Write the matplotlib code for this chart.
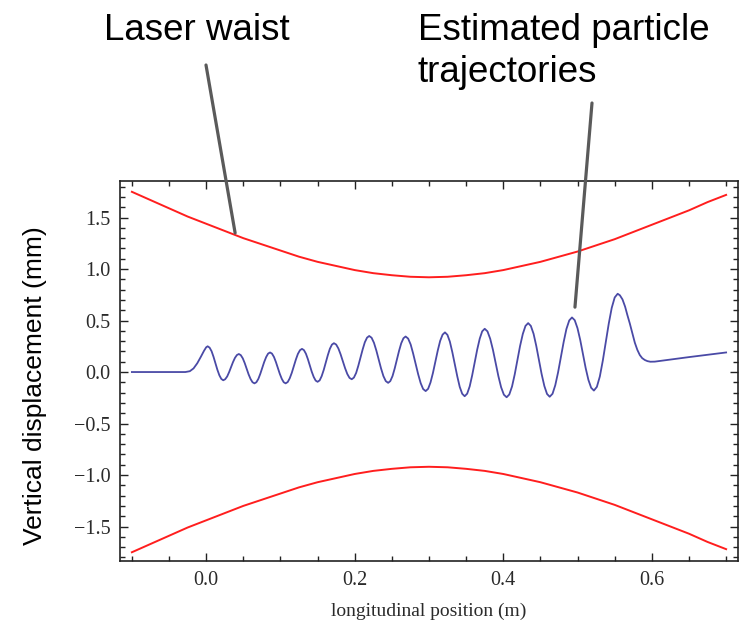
import numpy as np
import matplotlib
matplotlib.use('Agg')
import matplotlib.pyplot as plt
from matplotlib.ticker import MultipleLocator

# laser envelope (upper edge; lower edge mirrored), mm
waist_x = [-0.100, -0.075, -0.050, -0.025, 0.000, 0.025, 0.050, 0.075, 0.100,
           0.125, 0.150, 0.175, 0.200, 0.225, 0.250, 0.275, 0.300, 0.325,
           0.350, 0.375, 0.400, 0.425, 0.450, 0.475, 0.500, 0.525, 0.550,
           0.575, 0.600, 0.625, 0.650, 0.675, 0.700]
waist_upper = [1.75, 1.67, 1.59, 1.51, 1.44, 1.37, 1.30, 1.24, 1.18,
               1.12, 1.07, 1.03, 0.99, 0.96, 0.94, 0.925, 0.92, 0.925,
               0.94, 0.96, 0.99, 1.03, 1.07, 1.12, 1.17, 1.23, 1.29,
               1.36, 1.43, 1.50, 1.57, 1.65, 1.72]
waist_lower = [-1.75, -1.67, -1.59, -1.51, -1.44, -1.37, -1.30, -1.24, -1.18,
               -1.12, -1.07, -1.03, -0.99, -0.96, -0.94, -0.925, -0.92, -0.925,
               -0.94, -0.96, -0.99, -1.03, -1.07, -1.12, -1.17, -1.23, -1.29,
               -1.36, -1.43, -1.50, -1.57, -1.65, -1.72]

# particle trajectory (one row per half oscillation)
traj_x = [-0.100, -0.050, -0.028, -0.022, -0.017, -0.012, -0.007, -0.003, 0.000,
          0.002, 0.0046, 0.0073, 0.0099, 0.0125, 0.0151, 0.0178, 0.0204,
          0.023, 0.0256, 0.0283, 0.0309, 0.0335, 0.0361, 0.0388, 0.0414,
          0.044, 0.0466, 0.0493, 0.0519, 0.0545, 0.0571, 0.0598, 0.0624,
          0.065, 0.0676, 0.0703, 0.0729, 0.0755, 0.0781, 0.0808, 0.0834,
          0.086, 0.0886, 0.0913, 0.0939, 0.0965, 0.0991, 0.1018, 0.1044,
          0.107, 0.1098, 0.1125, 0.1153, 0.118, 0.1208, 0.1235, 0.1263,
          0.129, 0.1316, 0.1343, 0.1369, 0.1395, 0.1421, 0.1448, 0.1474,
          0.150, 0.1528, 0.1555, 0.1583, 0.161, 0.1638, 0.1665, 0.1693,
          0.172, 0.175, 0.178, 0.181, 0.184, 0.187, 0.190, 0.193,
          0.196, 0.1989, 0.2019, 0.2048, 0.2078, 0.2107, 0.2136, 0.2166,
          0.2195, 0.2227, 0.2259, 0.2291, 0.2323, 0.2354, 0.2386, 0.2418,
          0.245, 0.2479, 0.2509, 0.2538, 0.2568, 0.2597, 0.2626, 0.2656,
          0.2685, 0.2719, 0.2753, 0.2786, 0.282, 0.2854, 0.2888, 0.2921,
          0.2955, 0.2988, 0.302, 0.3053, 0.3085, 0.3118, 0.315, 0.3183,
          0.3215, 0.3248, 0.3281, 0.3314, 0.3348, 0.3381, 0.3414, 0.3447,
          0.348, 0.3514, 0.3548, 0.3581, 0.3615, 0.3649, 0.3683, 0.3716,
          0.375, 0.3787, 0.3824, 0.3861, 0.3898, 0.3934, 0.3971, 0.4008,
          0.4045, 0.4081, 0.4118, 0.4154, 0.419, 0.4226, 0.4263, 0.4299,
          0.4335, 0.4371, 0.4408, 0.4444, 0.448, 0.4516, 0.4553, 0.4589,
          0.4625, 0.4663, 0.470, 0.4738, 0.4775, 0.4813, 0.485, 0.4888,
          0.4925, 0.4962, 0.4999, 0.5036, 0.5073, 0.5109, 0.5146, 0.5183,
          0.522, 0.526, 0.530, 0.534, 0.538, 0.542, 0.546, 0.550,
          0.554, 0.557, 0.5605, 0.564, 0.567, 0.5704, 0.574, 0.5771, 0.5805,
          0.5838, 0.587, 0.5905, 0.594, 0.598, 0.604, 0.650, 0.700]
traj_y = [0.000, 0.000, 0.000, 0.008, 0.035, 0.085, 0.150, 0.205, 0.240,
          0.250, 0.237, 0.202, 0.148, 0.085, 0.022, -0.032, -0.067,
          -0.080, -0.070, -0.043, -0.001, 0.048, 0.096, 0.138, 0.165,
          0.175, 0.164, 0.133, 0.087, 0.033, -0.022, -0.068, -0.099,
          -0.110, -0.099, -0.066, -0.017, 0.040, 0.097, 0.146, 0.179,
          0.190, 0.179, 0.146, 0.097, 0.040, -0.017, -0.066, -0.099,
          -0.110, -0.097, -0.061, -0.007, 0.058, 0.122, 0.176, 0.212,
          0.225, 0.213, 0.178, 0.126, 0.065, 0.004, -0.048, -0.083,
          -0.095, -0.081, -0.040, 0.021, 0.093, 0.164, 0.225, 0.266,
          0.280, 0.267, 0.229, 0.172, 0.105, 0.038, -0.019, -0.057,
          -0.070, -0.054, -0.009, 0.060, 0.140, 0.220, 0.289, 0.334,
          0.350, 0.333, 0.284, 0.209, 0.123, 0.036, -0.039, -0.088,
          -0.105, -0.088, -0.039, 0.034, 0.120, 0.206, 0.279, 0.328,
          0.345, 0.325, 0.268, 0.181, 0.080, -0.021, -0.108, -0.165,
          -0.185, -0.163, -0.102, -0.009, 0.100, 0.209, 0.302, 0.363,
          0.385, 0.361, 0.295, 0.193, 0.075, -0.043, -0.145, -0.211,
          -0.235, -0.210, -0.139, -0.033, 0.093, 0.218, 0.324, 0.395,
          0.420, 0.395, 0.323, 0.215, 0.088, -0.040, -0.148, -0.220,
          -0.245, -0.218, -0.140, -0.023, 0.115, 0.253, 0.370, 0.448,
          0.475, 0.448, 0.371, 0.254, 0.118, -0.019, -0.136, -0.213,
          -0.240, -0.211, -0.128, -0.002, 0.145, 0.292, 0.418, 0.501,
          0.530, 0.503, 0.426, 0.311, 0.175, 0.039, -0.076, -0.153,
          -0.180, -0.144, -0.043, 0.111, 0.290, 0.470, 0.623, 0.724,
          0.760, 0.745, 0.705, 0.635, 0.555, 0.470, 0.370, 0.285, 0.215,
          0.165, 0.135, 0.117, 0.106, 0.100, 0.101, 0.145, 0.190]

fig = plt.figure(figsize=(7.4, 6.26), dpi=100)
ax = fig.add_axes([120/740, 1 - 561/626, 618/740, 380/626])

red = '#ff1e1e'
ax.plot(waist_x, waist_upper, color=red, lw=1.4)
ax.plot(waist_x, waist_lower, color=red, lw=1.4)
ax.plot(traj_x, traj_y, color='#4a4aa6', lw=1.3)

ax.set_xlim(-0.116, 0.716)
ax.set_ylim(-1.835, 1.855)

ax.xaxis.set_major_locator(MultipleLocator(0.2))
ax.xaxis.set_minor_locator(MultipleLocator(0.05))
ax.yaxis.set_major_locator(MultipleLocator(0.5))
ax.yaxis.set_minor_locator(MultipleLocator(0.1))
ax.tick_params(which='both', direction='in', top=True, right=True,
               width=1.0, color='#222222')
ax.tick_params(which='major', length=6, labelsize=14.5, labelcolor='#2a2a2a', pad=7)
ax.tick_params(which='minor', length=3.5)
for lab in ax.get_xticklabels() + ax.get_yticklabels():
    lab.set_family('Liberation Serif')
for sp in ax.spines.values():
    sp.set_linewidth(1.2)
    sp.set_color('#222222')

ax.set_xlabel('longitudinal position (m)', family='Liberation Serif',
              fontsize=14, color='#2a2a2a', labelpad=9)
fig.text(35/740, 1 - 386/626, 'Vertical displacement (mm)', rotation=90,
         ha='center', va='center', family='Liberation Sans', fontsize=19)

# callouts
fig.text(104/740, 1 - 40/626, 'Laser waist', family='Liberation Sans',
         fontsize=26.5, va='baseline')
fig.text(418/740, 1 - 40/626, 'Estimated particle', family='Liberation Sans',
         fontsize=26.5, va='baseline')
fig.text(418/740, 1 - 82/626, 'trajectories', family='Liberation Sans',
         fontsize=26.5, va='baseline')
grey = dict(arrowstyle='-', color='#5a5a5a', lw=2.3, shrinkA=0, shrinkB=0)
ax.annotate('', xy=(0.039, 1.35), xycoords='data',
            xytext=(206/740, 1 - 65/626), textcoords='figure fraction',
            arrowprops=grey, annotation_clip=False)
ax.annotate('', xy=(0.4965, 0.63), xycoords='data',
            xytext=(592/740, 1 - 103/626), textcoords='figure fraction',
            arrowprops=grey, annotation_clip=False)

fig.savefig('out.png', dpi=100)
